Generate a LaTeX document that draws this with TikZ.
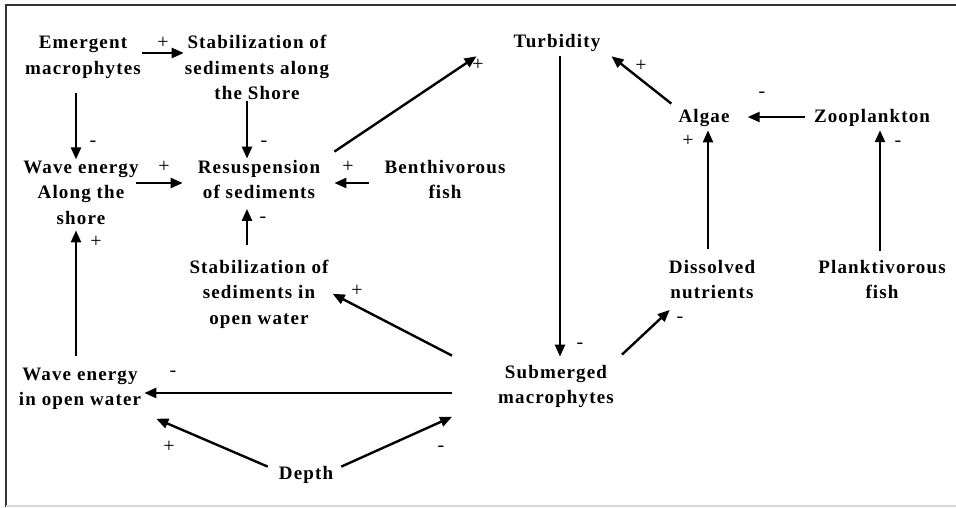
\documentclass[tikz,border=0pt]{standalone}
\usepackage{fontspec}
\setmainfont{Liberation Serif}[LetterSpace=6]
\usetikzlibrary{arrows.meta}

\tikzset{
  factor/.style={font=\bfseries\fontsize{19}{25.5}\selectfont, align=center, inner sep=1pt, anchor=base},
  sign/.style={font=\fontsize{20}{20}\selectfont, inner sep=0pt},
  link/.style={line width=2.4pt, -{Triangle[length=12pt,width=10pt]}},
}

\begin{document}
\begin{tikzpicture}[x=1pt, y=-1pt]
  \useasboundingbox (0,0) rectangle (956,508);
  \draw[line width=2.5pt, black!80] (956,5) -- (6,5) -- (6,507);
  \draw[line width=1.5pt, black!15] (6,506) -- (956,506);

  % factors (placed at the baseline of their last line)
  \node[factor] (emerg)     at (83,74.5) {Emergent\\macrophytes};
  \node[factor] (stabshore) at (257,100) {Stabilization of\\sediments along\\the Shore};
  \node[factor] (turb)      at (557,48)  {Turbidity};
  \node[factor] (wavealong) at (81,224)  {Wave energy\\Along the\\shore};
  \node[factor] (resusp)    at (259,198.5) {Resuspension\\of sediments};
  \node[factor] (benth)     at (445,198.5) {Benthivorous\\fish};
  \node[factor] (algae)     at (704,123) {Algae};
  \node[factor] (zoo)       at (872,123) {Zooplankton};
  \node[factor] (dissolved) at (712,298.5) {Dissolved\\nutrients};
  \node[factor] (plank)     at (882,298.5) {Planktivorous\\fish};
  \node[factor] (stabopen)  at (259,324) {Stabilization of\\sediments in\\open water};
  \node[factor] (waveopen)  at (80,405.5) {Wave energy\\in open water};
  \node[factor] (subm)      at (556,403.5) {Submerged\\macrophytes};
  \node[factor] (depth)     at (306,479) {Depth};

  % links
  \draw[link] ([yshift=21.5pt]emerg.base east) -- ([yshift=21.5pt]emerg.base east -| stabshore.west);
  \draw[link] ([xshift=-7pt,yshift=-13pt]emerg.south) -- ([xshift=-7pt]emerg.south |- wavealong.north);
  \draw[link] ([xshift=-10pt]stabshore.south) -- ([xshift=-10pt]stabshore.south |- resusp.north);
  \draw[link] ([xshift=-4pt,yshift=41pt]wavealong.base east) -- ([yshift=41pt,xshift=-14pt]wavealong.base east -| resusp.west);
  \draw[link] ([yshift=15.5pt,xshift=-14pt]benth.base west) -- ([yshift=15.5pt,xshift=13pt]benth.base west -| resusp.east);
  \draw[link] ([xshift=-12pt,yshift=13pt]stabopen.north) -- ([xshift=-12pt,yshift=-9pt]stabopen.north |- resusp.south);
  \draw[link] ([xshift=-4pt,yshift=10pt]waveopen.north) -- ([xshift=-4pt,yshift=-5pt]waveopen.north |- wavealong.south);
  \draw[link] ([xshift=13pt,yshift=7pt]resusp.north east) -- ([xshift=-36pt,yshift=-3pt]turb.south west);
  \draw[link] ([xshift=3pt,yshift=-3pt]turb.south) -- ([xshift=3pt,yshift=7pt]turb.south |- subm.north);
  \draw[link] ([xshift=-6pt,yshift=5pt]algae.north west) -- ([xshift=10pt,yshift=-3pt]turb.south east);
  \draw[link] ([yshift=6pt,xshift=-8pt]zoo.base west) -- ([yshift=6pt,xshift=17pt]zoo.base west -| algae.east);
  \draw[link] ([xshift=-4pt,yshift=10pt]dissolved.north) -- ([xshift=-4pt,yshift=-2pt]dissolved.north |- algae.south);
  \draw[link] ([xshift=-2pt,yshift=8pt]plank.north) -- ([xshift=-2pt,yshift=-2pt]plank.north |- zoo.south);
  \draw[link] ([xshift=7pt,yshift=9pt]subm.north east) -- ([xshift=2pt,yshift=-10pt]dissolved.south west);
  \draw[link] ([xshift=-45pt,yshift=8pt]subm.north west) -- ([xshift=3pt]stabopen.east);
  \draw[link] ([xshift=-45pt,yshift=10.5pt]subm.base west) -- ([xshift=2pt,yshift=10.5pt]subm.base west -| waveopen.east);
  \draw[link] ([xshift=-10pt,yshift=-2pt]depth.north west) -- ([xshift=14pt,yshift=-8pt]waveopen.south east);
  \draw[link] ([xshift=7pt,yshift=-2pt]depth.north east) -- ([xshift=-45pt,yshift=-8pt]subm.south west);

  % signs
  \node[sign] (s1)  at (163,43)  {+};
  \node[sign] (s2)  at (93,144)  {-};
  \node[sign] (s3)  at (264,144) {-};
  \node[sign] (s4)  at (164,167) {+};
  \node[sign] (s5)  at (348,167) {+};
  \node[sign] (s6)  at (263,220) {-};
  \node[sign] (s7)  at (96,242)  {+};
  \node[sign] (s8)  at (478,65)  {+};
  \node[sign] (s9)  at (580,346) {-};
  \node[sign] (s10) at (641,66)  {+};
  \node[sign] (s11) at (762,95)  {-};
  \node[sign] (s12) at (688,141) {+};
  \node[sign] (s13) at (898,144) {-};
  \node[sign] (s14) at (680,320) {-};
  \node[sign] (s15) at (357,291) {+};
  \node[sign] (s16) at (173,374) {-};
  \node[sign] (s17) at (169,447) {+};
  \node[sign] (s18) at (441,449) {-};
\end{tikzpicture}
\end{document}
